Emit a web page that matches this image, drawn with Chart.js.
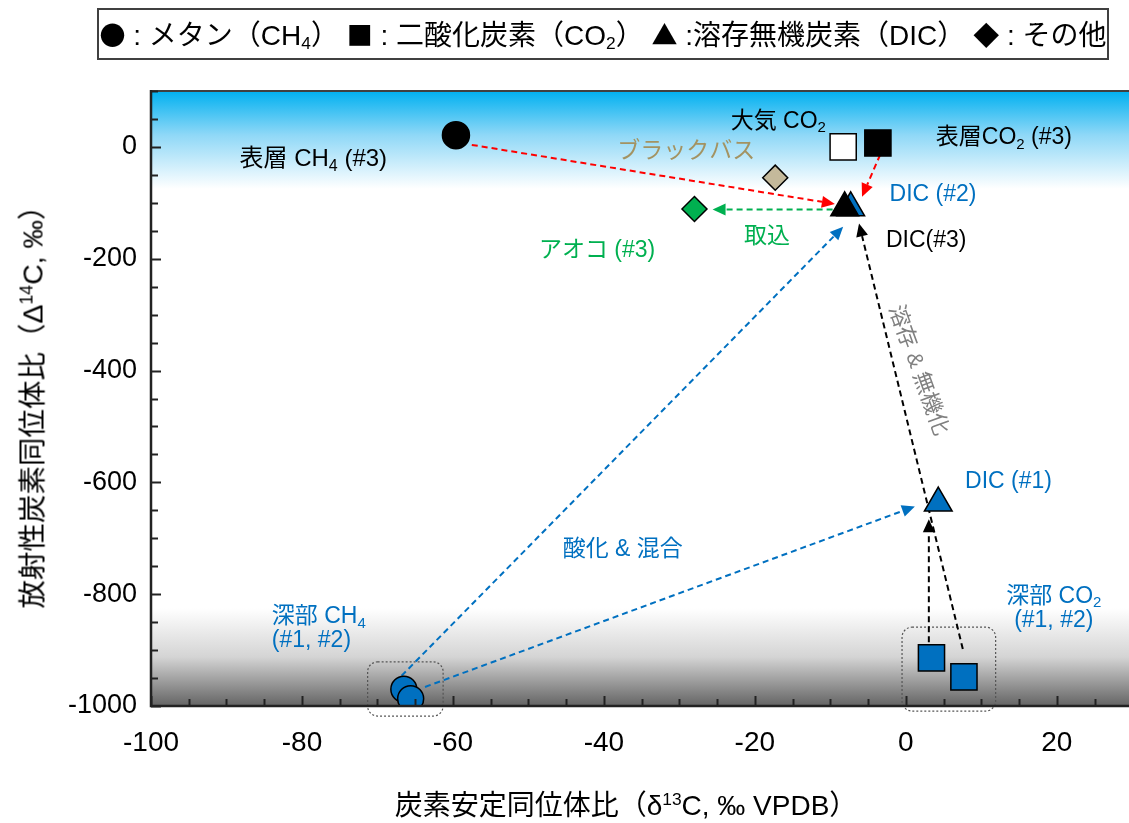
<!DOCTYPE html>
<html><head><meta charset="utf-8">
<script src="https://cdn.jsdelivr.net/npm/chart.js@4.4.1/dist/chart.umd.min.js"></script>
<style>
html,body{margin:0;padding:0;background:#fff;overflow:hidden;width:1129px;height:823px;}
#wrap{position:relative;width:1129px;height:823px;overflow:hidden;}
#c{position:absolute;left:0;top:0;width:1175px;height:823px;}
.t{position:absolute;font-family:"Liberation Sans","Noto Sans CJK JP",sans-serif;color:#000;white-space:nowrap;}
#legend{left:97px;top:8px;width:1008px;height:48px;border:2px solid #404040;font-size:28px;line-height:48px;text-align:center;box-sizing:content-box;}
#legend .s{font-family:"Noto Sans CJK JP",sans-serif;font-size:26px;}
#ytitle{font-size:28.5px;left:30px;top:400px;transform:translate(-50%,-50%) rotate(-90deg);}
#xtitle{font-size:28px;left:626px;top:803px;transform:translate(-50%,-50%);}
sup{font-size:0.62em;vertical-align:0.55em;line-height:0;}
sub{font-size:0.62em;vertical-align:-0.25em;line-height:0;}
</style></head>
<body>
<div id="wrap">
<canvas id="c" width="1175" height="823"></canvas>
<div class="t" id="legend"><span class="s">●</span> : メタン（CH<sub>4</sub>） <span class="s">■</span> : 二酸化炭素（CO<sub>2</sub>） <span class="s">▲</span> :溶存無機炭素（DIC） <span class="s">◆</span> : その他</div>
<div class="t" id="ytitle">放射性炭素同位体比（Δ<sup>14</sup>C, ‰）</div>
<div class="t" id="xtitle">炭素安定同位体比（δ<sup>13</sup>C, ‰ VPDB）</div>
</div>
<script>
// ---------- data (δ13C ‰, Δ14C ‰) ----------
const ch4Names = ['表層 CH4 (#3)', '深部 CH4 (#1)', '深部 CH4 (#2)'];
const ch4X = [-59.6, -66.5, -65.6];
const ch4Y = [21, -970, -987];

const co2Names = ['大気 CO2', '表層 CO2 (#3)', '深部 CO2 (#1)', '深部 CO2 (#2)'];
const co2X = [-8.3, -3.7, 3.4, 7.7];
const co2Y = [0, 7, -914, -948];

const dicNames = ['DIC (#2)', 'DIC (#3)', 'DIC (#1)'];
const dicX = [-7.3, -8.1, 4.3];
const dicY = [-109, -109, -637];

const otherNames = ['ブラックバス', 'アオコ (#3)'];
const otherX = [-17.3, -28.0];
const otherY = [-55, -111];

const xTickValues = [-100, -80, -60, -40, -20, 0, 20];
const yTickValues = [-1000, -800, -600, -400, -200, 0];

// arrows (data coordinates: start -> tip)
const arrowFromX = [-57.5, -3.4, -9.7, -66.8, -63.7, 3.05, 7.55];
const arrowFromY = [3.6, -14, -112, -946, -966, -886, -898];
const arrowToX   = [-9.4, -5.8, -25.6, -8.3, 1.2, 3.05, -6.2];
const arrowToY   = [-102, -89, -112, -143, -643, -666, -137];

// ---------- styles / annotations ----------
const BLUE = '#0070c0', GREEN = '#00b050', TAN = '#c4b99b', TANTXT = '#a39362', GRAY = '#808080';
const arrowColors = ['#ff0000', '#ff0000', GREEN, BLUE, BLUE, '#000', '#000'];
const FONT = '"Liberation Sans", "Noto Sans CJK JP", sans-serif';

const notes = [
  {t: '表層 CH_4 (#3)', x: -78.5, y: -23, c: '#000', s: 24},
  {t: '大気 CO_2', x: -16.9, y: 46, c: '#000'},
  {t: '表層CO_2 (#3)', x: 13.0, y: 16, c: '#000'},
  {t: 'ブラックバス', x: -29.1, y: -9, c: TANTXT},
  {t: 'DIC (#2)', x: 3.6, y: -86, c: BLUE},
  {t: 'DIC(#3)', x: 2.7, y: -168, c: '#000'},
  {t: '取込', x: -18.4, y: -161, c: GREEN},
  {t: 'アオコ (#3)', x: -40.9, y: -186, c: GREEN},
  {t: '酸化 & 混合', x: -37.5, y: -721, c: BLUE},
  {t: 'DIC (#1)', x: 13.6, y: -598, c: BLUE},
  {t: '深部 CO_2', x: 19.6, y: -804, c: BLUE},
  {t: '(#1, #2)', x: 19.6, y: -848, c: BLUE},
  {t: '深部 CH_4', x: -84.0, y: -841, c: BLUE, a: 'left'},
  {t: '(#1, #2)', x: -84.0, y: -884, c: BLUE, a: 'left'},
  {t: '溶存 & 無機化', x: 1.6, y: -400, c: GRAY, r: 70, s: 22}
];
const boxes = [
  {x1: -71.3, x2: -61.3, y1: -921, y2: -1018},
  {x1: -0.5, x2: 11.9, y1: -859, y2: -1009}
];

function pts(xs, ys) { return xs.map((x, i) => ({x: x, y: ys[i]})); }

function drawRich(ctx, text, x, y, size, color, align) {
  const parts = [];
  const re = /_(\d)/g; let last = 0, m;
  while ((m = re.exec(text)) !== null) {
    if (m.index > last) parts.push({s: text.slice(last, m.index), sub: false});
    parts.push({s: m[1], sub: true});
    last = m.index + m[0].length;
  }
  if (last < text.length) parts.push({s: text.slice(last), sub: false});
  const subSize = Math.round(size * 0.65);
  let w = 0;
  parts.forEach(p => { ctx.font = (p.sub ? subSize : size) + 'px ' + FONT; p.w = ctx.measureText(p.s).width; w += p.w; });
  let cx = align === 'left' ? x : x - w / 2;
  ctx.fillStyle = color; ctx.textBaseline = 'middle'; ctx.textAlign = 'left';
  parts.forEach(p => {
    ctx.font = (p.sub ? subSize : size) + 'px ' + FONT;
    ctx.fillText(p.s, cx, p.sub ? y + size * 0.3 : y);
    cx += p.w;
  });
}

function roundRect(ctx, x, y, w, h, r) {
  ctx.beginPath();
  ctx.moveTo(x + r, y); ctx.lineTo(x + w - r, y); ctx.arcTo(x + w, y, x + w, y + r, r);
  ctx.lineTo(x + w, y + h - r); ctx.arcTo(x + w, y + h, x + w - r, y + h, r);
  ctx.lineTo(x + r, y + h); ctx.arcTo(x, y + h, x, y + h - r, r);
  ctx.lineTo(x, y + r); ctx.arcTo(x, y, x + r, y, r); ctx.closePath();
}

const decor = {
  id: 'decor',
  beforeDatasetsDraw(chart) {
    const ctx = chart.ctx, xs = chart.scales.x, ys = chart.scales.y, a = chart.chartArea;
    ctx.save();
    const yTop = ys.getPixelForValue(100), yBlueEnd = ys.getPixelForValue(-75);
    let g = ctx.createLinearGradient(0, yTop, 0, yBlueEnd);
    g.addColorStop(0, '#00b0f0'); g.addColorStop(0.45, '#8fd8f7'); g.addColorStop(1, '#ffffff');
    ctx.fillStyle = g; ctx.fillRect(a.left, yTop, a.right - a.left, yBlueEnd - yTop);
    const yGrayStart = ys.getPixelForValue(-825), yBot = ys.getPixelForValue(-1000);
    g = ctx.createLinearGradient(0, yGrayStart, 0, yBot);
    g.addColorStop(0, '#ffffff'); g.addColorStop(0.5, '#d4d4d4'); g.addColorStop(1, '#646464');
    ctx.fillStyle = g; ctx.fillRect(a.left, yGrayStart, a.right - a.left, yBot - yGrayStart);
    ctx.strokeStyle = '#555'; ctx.lineWidth = 1.2; ctx.setLineDash([2, 2]);
    boxes.forEach(b => {
      const x1 = xs.getPixelForValue(b.x1), x2 = xs.getPixelForValue(b.x2);
      const y1 = ys.getPixelForValue(b.y1), y2 = ys.getPixelForValue(b.y2);
      roundRect(ctx, x1, y1, x2 - x1, y2 - y1, 10); ctx.stroke();
    });
    for (let i = 0; i < arrowFromX.length; i++) {
      const x1 = xs.getPixelForValue(arrowFromX[i]), y1 = ys.getPixelForValue(arrowFromY[i]);
      const x2 = xs.getPixelForValue(arrowToX[i]), y2 = ys.getPixelForValue(arrowToY[i]);
      const ang = Math.atan2(y2 - y1, x2 - x1), L = 13, W = 6;
      const bx = x2 - Math.cos(ang) * L, by = y2 - Math.sin(ang) * L;
      ctx.strokeStyle = arrowColors[i]; ctx.fillStyle = arrowColors[i];
      ctx.lineWidth = 2; ctx.setLineDash([6, 4]);
      ctx.beginPath(); ctx.moveTo(x1, y1); ctx.lineTo(bx, by); ctx.stroke();
      ctx.setLineDash([]);
      ctx.beginPath(); ctx.moveTo(x2, y2);
      ctx.lineTo(bx + Math.sin(ang) * W, by - Math.cos(ang) * W);
      ctx.lineTo(bx - Math.sin(ang) * W, by + Math.cos(ang) * W);
      ctx.closePath(); ctx.fill();
    }
    ctx.restore();
  },
  afterDraw(chart) {
    const ctx = chart.ctx, xs = chart.scales.x, ys = chart.scales.y, a = chart.chartArea;
    ctx.save();
    ctx.setLineDash([]);
    ctx.strokeStyle = '#404040'; ctx.lineWidth = 2;
    ctx.beginPath(); ctx.moveTo(a.left, a.top); ctx.lineTo(a.right + 10, a.top); ctx.stroke();
    ctx.strokeStyle = '#222'; ctx.lineWidth = 2.5;
    ctx.beginPath(); ctx.moveTo(a.left, a.top - 1); ctx.lineTo(a.left, a.bottom); ctx.lineTo(a.right + 10, a.bottom); ctx.stroke();
    ctx.lineWidth = 2; ctx.strokeStyle = '#222';
    for (let v = -100; v <= 35; v += 5) {
      const px = Math.round(xs.getPixelForValue(v)) + 0.5, len = v % 20 === 0 ? 10 : 7;
      ctx.beginPath(); ctx.moveTo(px, a.bottom); ctx.lineTo(px, a.bottom - len); ctx.stroke();
    }
    for (let v = -1000; v <= 100; v += 50) {
      const py = Math.round(ys.getPixelForValue(v)) + 0.5, len = v % 200 === 0 ? 10 : 7;
      ctx.beginPath(); ctx.moveTo(a.left, py); ctx.lineTo(a.left + len, py); ctx.stroke();
    }
    notes.forEach(n => {
      const px = xs.getPixelForValue(n.x), py = ys.getPixelForValue(n.y);
      if (n.r) {
        ctx.save(); ctx.translate(px, py); ctx.rotate(n.r * Math.PI / 180);
        drawRich(ctx, n.t, 0, 0, n.s || 21, n.c, 'center'); ctx.restore();
      } else {
        drawRich(ctx, n.t, px, py, n.s || 23, n.c, n.a || 'center');
      }
    });
    ctx.restore();
  }
};

new Chart(document.getElementById('c'), {
  type: 'scatter',
  data: {
    datasets: [
      {label: 'その他', data: pts(otherX, otherY), pointStyle: 'rectRot', pointRadius: 12.5,
       pointBackgroundColor: [TAN, GREEN], pointBorderColor: '#000', pointBorderWidth: 1.5},
      {label: 'DIC', data: pts(dicX, dicY), pointStyle: 'triangle', pointRadius: 16,
       pointBackgroundColor: [BLUE, '#000', BLUE], pointBorderColor: '#000', pointBorderWidth: 1.5},
      {label: 'CO2', data: pts(co2X, co2Y), pointStyle: 'rect', pointRadius: 18.5,
       pointBackgroundColor: ['#fff', '#000', BLUE, BLUE], pointBorderColor: '#000', pointBorderWidth: 1.5},
      {label: 'CH4', data: pts(ch4X, ch4Y), pointStyle: 'circle', pointRadius: [13.5, 13, 13],
       pointBackgroundColor: ['#000', BLUE, BLUE], pointBorderColor: '#000', pointBorderWidth: 1.5}
    ]
  },
  options: {
    responsive: false, animation: false, devicePixelRatio: 1,
    layout: {autoPadding: false, padding: {left: 0, top: 91, right: 5, bottom: 0}},
    plugins: {legend: {display: false}, tooltip: {enabled: false}},
    scales: {
      x: {type: 'linear', min: -100, max: 35,
        afterFit(s) { s.height = 117; s.paddingLeft = 0; s.paddingRight = 0; },
        afterBuildTicks(s) { s.ticks = xTickValues.map(v => ({value: v})); },
        grid: {display: false, drawTicks: false}, border: {display: false},
        ticks: {padding: 20, color: '#000', font: {family: FONT, size: 28}, autoSkip: false, maxRotation: 0, callback: v => String(v)}},
      y: {type: 'linear', min: -1000, max: 100,
        afterFit(s) { s.width = 151; s.paddingTop = 0; s.paddingBottom = 0; },
        afterBuildTicks(s) { s.ticks = yTickValues.map(v => ({value: v})); },
        grid: {display: false, drawTicks: false}, border: {display: false},
        ticks: {padding: 14, color: '#000', font: {family: FONT, size: 27}, autoSkip: false, callback: v => String(v)}}
    }
  },
  plugins: [decor]
});
</script>
</body></html>
